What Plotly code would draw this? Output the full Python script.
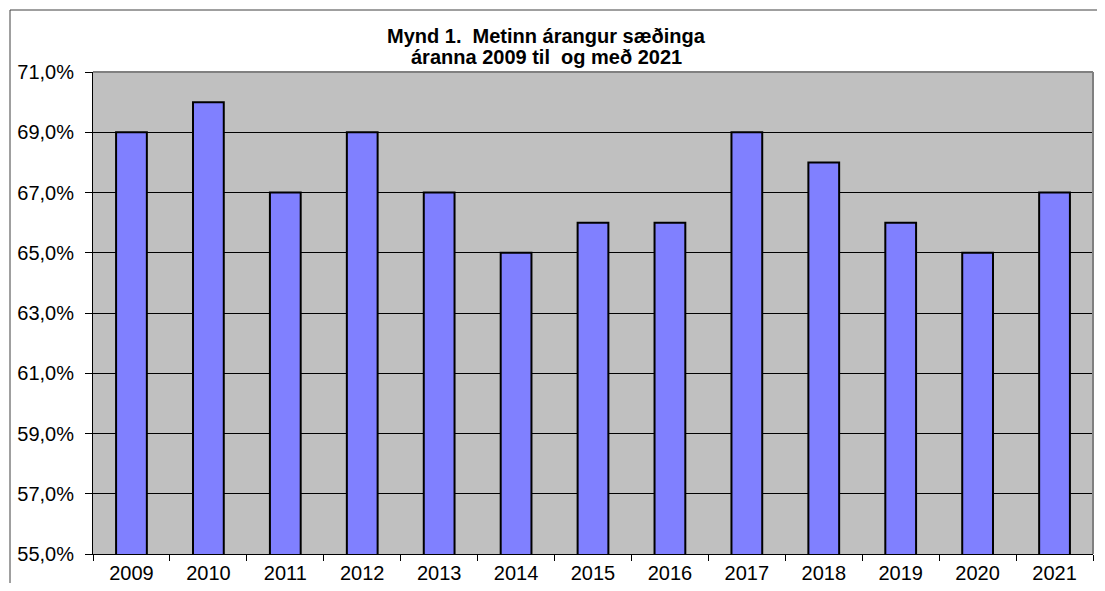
import plotly.graph_objects as go

years = ["2009", "2010", "2011", "2012", "2013", "2014", "2015", "2016", "2017", "2018", "2019", "2020", "2021"]
values = [69, 70, 67, 69, 67, 65, 66, 66, 69, 68, 66, 65, 67]
y_ticks = [55, 57, 59, 61, 63, 65, 67, 69, 71]
y_labels = ["55,0%", "57,0%", "59,0%", "61,0%", "63,0%", "65,0%", "67,0%", "69,0%", "71,0%"]
title_lines = ["Mynd 1.  Metinn árangur sæðinga", "áranna 2009 til  og með 2021"]

fig = go.Figure(go.Bar(
    x=years, y=values,
    marker=dict(color="#8080FF", line=dict(color="black", width=2)),
))

fig.update_layout(
    width=1089, height=575,
    margin=dict(l=85, r=4, t=64, b=29),
    paper_bgcolor="white",
    plot_bgcolor="#C0C0C0",
    bargap=0.6,
    showlegend=False,
    font=dict(family="Liberation Sans, Arial, sans-serif", color="black"),
    xaxis=dict(
        type="category", automargin=False,
        showline=True, linecolor="black", linewidth=1,
        ticks="outside", tickson="boundaries", ticklen=6, tickcolor="black",
        ticklabelstandoff=1,
        tickfont=dict(size=20), showgrid=False,
    ),
    yaxis=dict(
        range=[55, 71], automargin=False,
        tickvals=y_ticks, ticktext=y_labels,
        showline=True, linecolor="black", linewidth=1,
        ticks="outside", ticklen=7, tickcolor="black",
        ticklabelstandoff=7,
        tickfont=dict(size=20),
        showgrid=True, gridcolor="black", gridwidth=1,
        zeroline=False,
    ),
    annotations=[
        dict(text="<b>" + title_lines[0] + "</b>",
             xref="paper", yref="paper", x=0.453, y=1.0747,
             xanchor="center", yanchor="middle", showarrow=False,
             font=dict(size=20, color="black")),
        dict(text="<b>" + title_lines[1] + "</b>",
             xref="paper", yref="paper", x=0.453, y=1.0311,
             xanchor="center", yanchor="middle", showarrow=False,
             font=dict(size=20, color="black")),
    ],
    shapes=[
        dict(type="line", xref="paper", yref="paper", x0=0, x1=1, y0=1, y1=1,
             line=dict(color="#808080", width=2)),
        dict(type="line", xref="paper", yref="paper", x0=1, x1=1, y0=0, y1=1,
             line=dict(color="#808080", width=2)),
        dict(type="rect", xref="paper", yref="paper", x0=-0.083, x1=1.2, y0=-0.2, y1=1.1286,
             line=dict(color="#404040", width=1), layer="below"),
    ],
)

fig.write_html("out.html")
